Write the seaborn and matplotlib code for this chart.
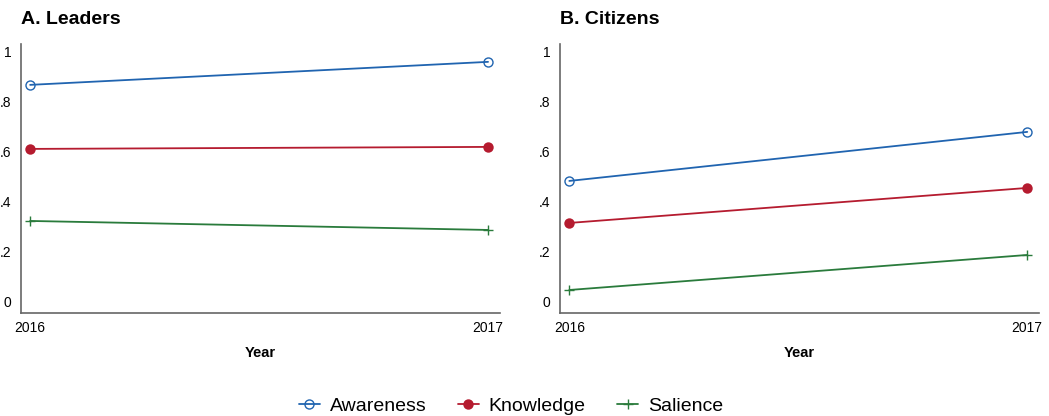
import numpy as np
import pandas as pd
import matplotlib
matplotlib.use("Agg")
import matplotlib.pyplot as plt
import seaborn as sns
from matplotlib.lines import Line2D

# data
years = [2016, 2017]
measures = ["Awareness", "Knowledge", "Salience"]
leaders_awareness = [0.872, 0.964]
leaders_knowledge = [0.616, 0.624]
leaders_salience = [0.328, 0.292]
citizens_awareness = [0.488, 0.684]
citizens_knowledge = [0.320, 0.460]
citizens_salience = [0.052, 0.192]
panel_titles = ["A. Leaders", "B. Citizens"]
y_ticks = [0, 0.2, 0.4, 0.6, 0.8, 1.0]
y_ticklabels = ["0", ".2", ".4", ".6", ".8", "1"]

rows = []
for panel, vals in zip(panel_titles, [
        [leaders_awareness, leaders_knowledge, leaders_salience],
        [citizens_awareness, citizens_knowledge, citizens_salience]]):
    for m, v in zip(measures, vals):
        for yr, val in zip(years, v):
            rows.append({"panel": panel, "measure": m, "year": yr, "value": val})
df = pd.DataFrame(rows)

sns.set_theme(style="white")
plt.rcParams["font.family"] = ["Liberation Sans", "DejaVu Sans"]
plt.rcParams["text.color"] = "black"

colors = {"Awareness": "#2064b0", "Knowledge": "#b51b2f", "Salience": "#2a7b3c"}
mstyle = {
    "Awareness": dict(marker="o", markersize=6.5, markerfacecolor="none",
                      markeredgewidth=1.0),
    "Knowledge": dict(marker="o", markersize=7.5, markeredgewidth=0),
    "Salience": dict(marker="+", markersize=6.5, markeredgewidth=1.0),
}

fig = plt.figure(figsize=(10.49, 4.16), dpi=100)
axes = [fig.add_axes([0.020, 0.2476, 0.4566, 0.647]),
        fig.add_axes([0.534, 0.2476, 0.4566, 0.647])]

for ax, panel in zip(axes, panel_titles):
    sub = df[df.panel == panel]
    for m in measures:
        d = sub[sub.measure == m]
        sns.lineplot(data=d, x="year", y="value", ax=ax, color=colors[m],
                     linewidth=1.3, markeredgecolor=colors[m], **mstyle[m])
    ax.set_xlim(2015.98, 2017.026)
    ax.set_ylim(-0.04, 1.036)
    ax.set_yticks(y_ticks)
    ax.set_yticklabels(y_ticklabels)
    ax.set_xticks(years)
    ax.set_xticklabels([str(y) for y in years])
    ax.tick_params(axis="both", length=0, labelsize=10, colors="black")
    ax.tick_params(axis="y", pad=7)
    ax.tick_params(axis="x", pad=6)
    for lab in ax.get_yticklabels():
        lab.set_verticalalignment("center")
    ax.set_xlabel("Year", fontsize=10.5, fontweight="bold", labelpad=8,
                  color="black")
    ax.set_ylabel("")
    ax.set_title(panel, loc="left", fontsize=14, fontweight="bold", pad=14,
                 x=0.0, color="black")
    for s in ["top", "right"]:
        ax.spines[s].set_visible(False)
    for s in ["left", "bottom"]:
        ax.spines[s].set_color("#666666")
        ax.spines[s].set_linewidth(1.2)

handles = [Line2D([], [], color=colors[m], linewidth=1.3,
                  markeredgecolor=colors[m], **mstyle[m]) for m in measures]
fig.legend(handles, measures, loc="lower center", bbox_to_anchor=(0.487, -0.04),
           ncol=3, frameon=False, fontsize=14, handlelength=1.1,
           handletextpad=0.5, columnspacing=1.6)

plt.savefig("out.png", dpi=100)
